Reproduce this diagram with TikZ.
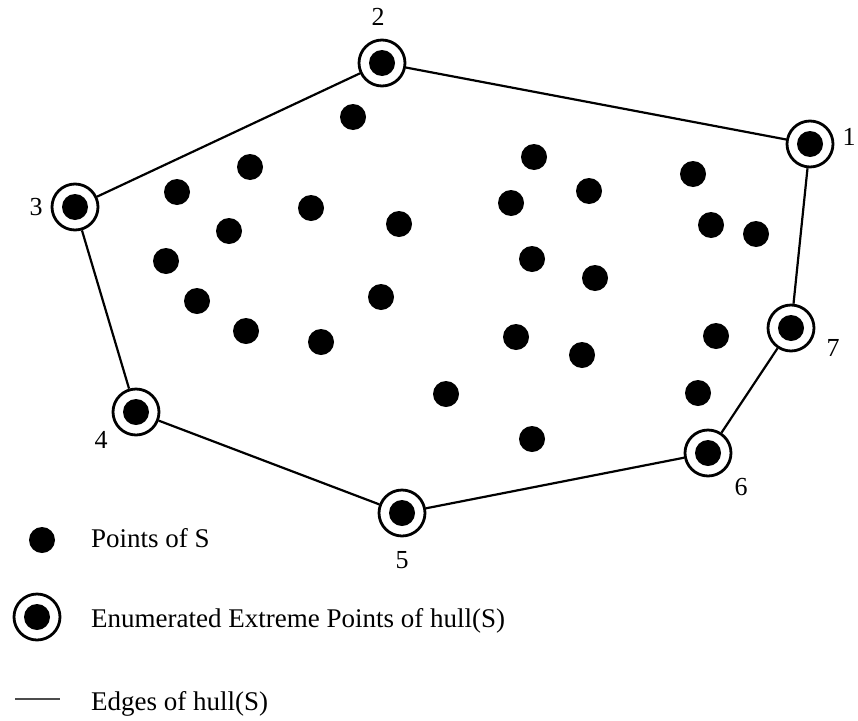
\documentclass[tikz,border=0pt]{standalone}
\usepackage{fontspec}
\setmainfont{Liberation Serif}
\usetikzlibrary{positioning}

\begin{document}
\begin{tikzpicture}[x=1pt, y=-1pt,
  dot/.style={circle, fill=black, minimum size=26pt, inner sep=0pt},
  hull/.style={circle, draw=black, line width=2.8pt, minimum size=46pt, inner sep=0pt,
    path picture={\fill[black] (path picture bounding box.center) circle (13pt);}},
  num/.style={inner sep=0pt, font=\fontsize{26}{30}\selectfont},
  txt/.style={inner sep=0pt, anchor=base west, font=\fontsize{27}{32}\selectfont},
  edge/.style={draw=black, line width=2.2pt},
  legline/.style={draw=black!70, line width=1.6pt}]

\useasboundingbox (0,0) rectangle (858,720);

% points of S
\foreach \px/\py [count=\i] in {353/117, 250/167, 177/192, 311/208, 229/231, 399/224,
    166/261, 197/301, 381/297, 246/331, 321/342,
    534/157, 589/191, 511/203, 532/259, 595/278, 516/337, 582/355, 446/394, 532/439,
    693/174, 711/225, 756/234, 716/336, 698/393}
  \node[dot] (p\i) at (\px,\py) {};

% extreme points
\node[hull] (h1) at (810,144) {};
\node[hull] (h2) at (382,63) {};
\node[hull] (h3) at (75,207) {};
\node[hull] (h4) at (136,412) {};
\node[hull] (h5) at (402,513) {};
\node[hull] (h6) at (708,453) {};
\node[hull] (h7) at (791,328) {};

\node[num] (n1) at (849,137) {1};
\node[num] (n2) at (378,17) {2};
\node[num] (n3) at (36,207) {3};
\node[num] (n4) at (101,440) {4};
\node[num] (n5) at (402,560) {5};
\node[num] (n6) at (741,487) {6};
\node[num] (n7) at (833,348) {7};

\draw[edge] (h1) -- (h2) -- (h3) -- (h4) -- (h5) -- (h6) -- (h7) -- (h1);

% legend
\node[dot] (legdot) at (42,540) {};
\node[txt] (legdottxt) at (91,547) {Points of S};
\node[hull] (leghull) at (37,617) {};
\node[txt] (leghulltxt) at (91,627) {Enumerated Extreme Points of hull(S)};
\coordinate (lega) at (15,699);
\coordinate (legb) at (60,699);
\draw[legline] (lega) -- (legb);
\node[txt] (legedgetxt) at (91,710) {Edges of hull(S)};
\end{tikzpicture}
\end{document}
